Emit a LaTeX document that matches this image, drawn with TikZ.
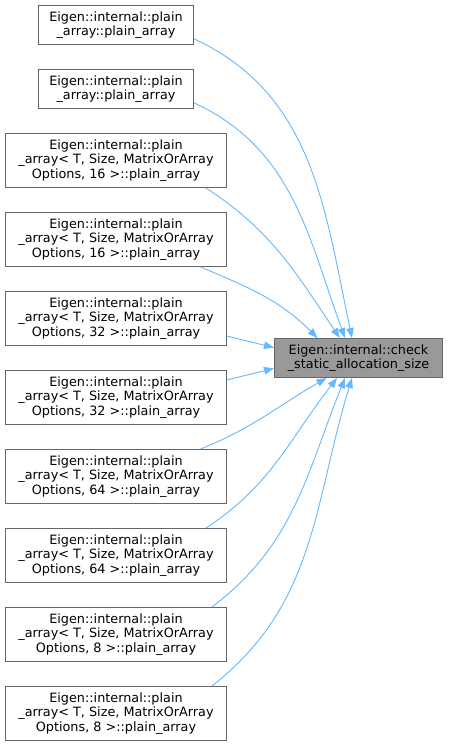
\documentclass[tikz,border=0pt]{standalone}
\usepackage{fontspec}
\setmainfont{DejaVu Sans}
\usetikzlibrary{arrows.meta,positioning}

\definecolor{edgeblue}{HTML}{63B8FF}
\definecolor{boxgray}{HTML}{666666}
\definecolor{targetgray}{HTML}{999999}

\begin{document}
\begin{tikzpicture}[
    x=1pt, y=-1pt,
    node distance=24pt,
    caller/.style={rectangle, draw=boxgray, line width=1pt, fill=white, align=center, inner sep=0pt, minimum width=221pt, minimum height=54pt, font=\fontsize{12.8}{14.5}\selectfont},
    shortcaller/.style={caller, minimum width=155pt, minimum height=39pt},
    callee/.style={caller, fill=targetgray, minimum width=168pt, minimum height=39pt},
    arrow/.style={-{Triangle[length=10pt,width=7.5pt,fill=edgeblue]}, draw=edgeblue, line width=0.9pt}
]
    \useasboundingbox (0,0) rectangle (449,745);

    % Callers
    \node[shortcaller] (pa1) at (116,25) {Eigen::internal::plain\\\_array::plain\_array};
    \node[shortcaller, below=of pa1] (pa2) {Eigen::internal::plain\\\_array::plain\_array};
    \node[caller, below=of pa2] (pa16a) {Eigen::internal::plain\\\_array< T, Size, MatrixOrArray\\Options, 16 >::plain\_array};
    \node[caller, below=of pa16a] (pa16b) {Eigen::internal::plain\\\_array< T, Size, MatrixOrArray\\Options, 16 >::plain\_array};
    \node[caller, below=of pa16b] (pa32a) {Eigen::internal::plain\\\_array< T, Size, MatrixOrArray\\Options, 32 >::plain\_array};
    \node[caller, below=of pa32a] (pa32b) {Eigen::internal::plain\\\_array< T, Size, MatrixOrArray\\Options, 32 >::plain\_array};
    \node[caller, below=of pa32b] (pa64a) {Eigen::internal::plain\\\_array< T, Size, MatrixOrArray\\Options, 64 >::plain\_array};
    \node[caller, below=of pa64a] (pa64b) {Eigen::internal::plain\\\_array< T, Size, MatrixOrArray\\Options, 64 >::plain\_array};
    \node[caller, below=of pa64b] (pa8a) {Eigen::internal::plain\\\_array< T, Size, MatrixOrArray\\Options, 8 >::plain\_array};
    \node[caller, below=of pa8a] (pa8b) {Eigen::internal::plain\\\_array< T, Size, MatrixOrArray\\Options, 8 >::plain\_array};

    % Target
    \node[callee] (check) at (358.5,358) {Eigen::internal::check\\\_static\_allocation\_size};

    % Calls
    \draw[arrow] (pa1.350) to[out=-25, in=102] (check.108);
    \draw[arrow] (pa2.350) to[out=-25, in=110] (check.124);
    \draw[arrow] (pa16a.343) to[out=-33, in=124] (check.133);
    \draw[arrow] (pa16b.342) to[out=-23, in=135] (check.154);
    \draw[arrow] (pa32a.351) -- (check.173);
    \draw[arrow] (pa32b.9.5) -- (check.187.4);
    \draw[arrow] (pa64a.18.5) to[out=22, in=210] (check.212);
    \draw[arrow] (pa64b.17.2) to[out=33, in=232] (check.223);
    \draw[arrow] (pa8a.16.3) to[out=37, in=248] (check.236);
    \draw[arrow] (pa8b.16.3) to[out=38, in=253] (check.252);

\end{tikzpicture}
\end{document}
